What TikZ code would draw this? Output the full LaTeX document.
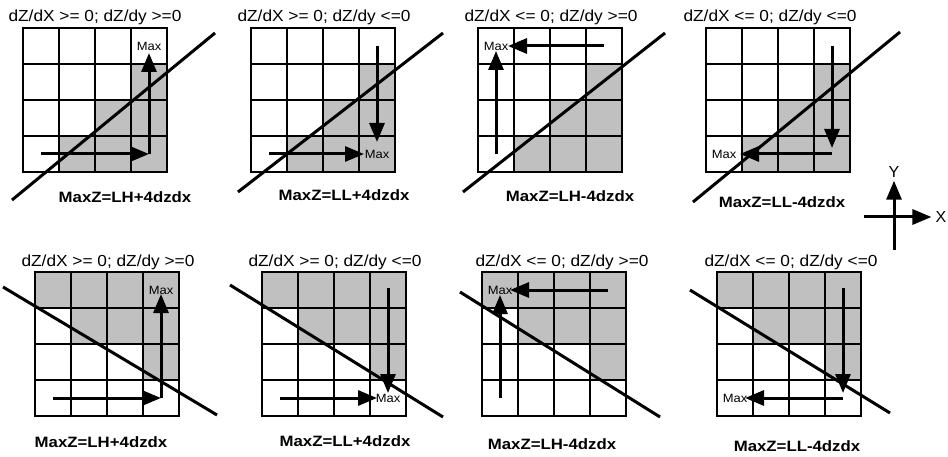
\documentclass[tikz,border=0pt]{standalone}
\usepackage{fontspec}
\setmainfont{Liberation Sans}
\newfontfamily\hdrfont[FakeStretch=1.08]{Liberation Sans}
\newfontfamily\eqfont[FakeStretch=1.12]{Liberation Sans}
\usepackage{xcolor}
\usetikzlibrary{arrows.meta}
\definecolor{cellgray}{RGB}{192,192,192}

\begin{document}
\begin{tikzpicture}[
  x=1pt, y=-1pt,
  gridline/.style={line width=2pt},
  cutline/.style={line width=3pt},
  flowarrow/.style={line width=3pt, -{Triangle[length=19pt, width=15pt]}},
  headlabel/.style={font=\hdrfont\fontsize{16}{19}\selectfont, inner sep=0pt},
  eqlabel/.style={font=\eqfont\bfseries\fontsize{15}{18}\selectfont, inner sep=0pt},
  maxlabel/.style={font=\hdrfont\fontsize{12}{14}\selectfont, inner sep=0pt},
  axislabel/.style={font=\fontsize{16}{19}\selectfont, inner sep=0pt},
]
\useasboundingbox (0,0) rectangle (948,457);

% grids, upper row
\foreach \ox/\oy in {23/28, 251/28, 478/28, 706/28} {
  \foreach \c/\r in {3/1, 2/2, 3/2, 1/3, 2/3, 3/3}
    \fill[cellgray] (\ox+36*\c, \oy+36*\r) rectangle +(36,36);
  \foreach \i in {36,72,108} {
    \draw[gridline] (\ox+\i,\oy) -- +(0,144);
    \draw[gridline] (\ox,\oy+\i) -- +(144,0);
  }
  \draw[gridline] (\ox,\oy) rectangle +(144,144);
}

% grids, lower row
\foreach \ox/\oy in {35/272, 262/272, 482/272, 717/272} {
  \foreach \c/\r in {0/0, 1/0, 2/0, 3/0, 1/1, 2/1, 3/1, 3/2}
    \fill[cellgray] (\ox+36*\c, \oy+36*\r) rectangle +(36,36);
  \foreach \i in {36,72,108} {
    \draw[gridline] (\ox+\i,\oy) -- +(0,144);
    \draw[gridline] (\ox,\oy+\i) -- +(144,0);
  }
  \draw[gridline] (\ox,\oy) rectangle +(144,144);
}

% Panel 1
\node[headlabel] (h1) at (95,17) {dZ/dX >= 0; dZ/dy >=0};
\node[eqlabel] (e1) at (125,197) {MaxZ=LH+4dzdx};
\draw[cutline] (12,200) -- (215,33);
\node[maxlabel] (m1) at (149,46) {Max};
\draw[flowarrow] (41,154) -- (149,154);
\draw[flowarrow] (149,154) -- (149,53);

% Panel 2
\node[headlabel] (h2) at (324,17) {dZ/dX >= 0; dZ/dy <=0};
\node[eqlabel] (e2) at (344,195) {MaxZ=LL+4dzdx};
\draw[cutline] (238,192) -- (443,33);
\node[maxlabel] (m2) at (377,154) {Max};
\draw[flowarrow] (377,46) -- (377,142);
\draw[flowarrow] (269,154) -- (364,154);

% Panel 3
\node[headlabel] (h3) at (551,17) {dZ/dX <= 0; dZ/dy >=0};
\node[eqlabel] (e3) at (570,196) {MaxZ=LH-4dzdx};
\draw[cutline] (463,192) -- (665,33);
\node[maxlabel] (m3) at (496,46) {Max};
\draw[flowarrow] (496,154) -- (496,51);
\draw[flowarrow] (604,46) -- (508,46);

% Panel 4
\node[headlabel] (h4) at (770,17) {dZ/dX <= 0; dZ/dy <=0};
\node[eqlabel] (e4) at (782,202) {MaxZ=LL-4dzdx};
\draw[cutline] (693,202) -- (900,32);
\node[maxlabel] (m4) at (724,154) {Max};
\draw[flowarrow] (832,46) -- (832,148);
\draw[flowarrow] (832,154) -- (740,154);

% Panel 5
\node[headlabel] (h5) at (108,262) {dZ/dX >= 0; dZ/dy >=0};
\node[eqlabel] (e5) at (101,442) {MaxZ=LH+4dzdx};
\draw[cutline] (3,287) -- (217,415);
\node[maxlabel] (m5) at (161,290) {Max};
\draw[flowarrow] (53,398) -- (161,398);
\draw[flowarrow] (161,398) -- (161,294);

% Panel 6
\node[headlabel] (h6) at (335,262) {dZ/dX >= 0; dZ/dy <=0};
\node[eqlabel] (e6) at (345,441) {MaxZ=LL+4dzdx};
\draw[cutline] (230,285) -- (443,417);
\node[maxlabel] (m6) at (388,398) {Max};
\draw[flowarrow] (388,288) -- (388,393);
\draw[flowarrow] (280,398) -- (377,398);

% Panel 7
\node[headlabel] (h7) at (562,262) {dZ/dX <= 0; dZ/dy >=0};
\node[eqlabel] (e7) at (552,444) {MaxZ=LH-4dzdx};
\draw[cutline] (460,292) -- (660,417);
\node[maxlabel] (m7) at (500,290) {Max};
\draw[flowarrow] (500,398) -- (500,295);
\draw[flowarrow] (608,290) -- (510,290);

% Panel 8
\node[headlabel] (h8) at (791,262) {dZ/dX <= 0; dZ/dy <=0};
\node[eqlabel] (e8) at (797,446) {MaxZ=LL-4dzdx};
\draw[cutline] (690,290) -- (890,413);
\node[maxlabel] (m8) at (735,398) {Max};
\draw[flowarrow] (843,288) -- (843,393);
\draw[flowarrow] (843,398) -- (745,398);

% axes
\node[axislabel] (ylab) at (894,172) {Y};
\node[axislabel] (xlab) at (941,217) {X};
\coordinate (yfoot) at (894,250);
\coordinate (xfoot) at (864,217);
\draw[flowarrow, shorten >=3pt] (yfoot) -- (ylab.south);
\draw[flowarrow, shorten >=4pt] (xfoot) -- (xlab.west);

\end{tikzpicture}
\end{document}
